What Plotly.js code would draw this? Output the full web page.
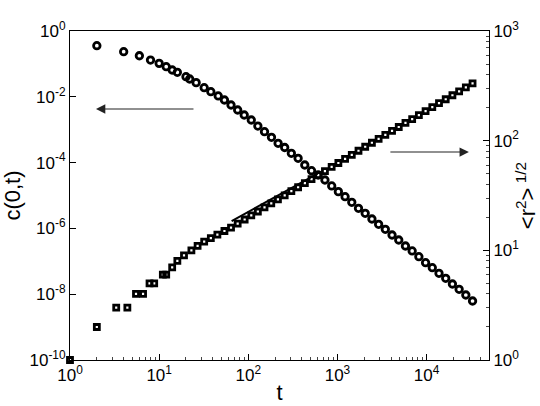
<!DOCTYPE html>
<html>
<head>
<meta charset="utf-8">
<script src="https://cdn.plot.ly/plotly-3.0.1.min.js"></script>
<style>html,body{margin:0;padding:0;background:#fff;}#chart{width:540px;height:406px;}</style>
</head>
<body>
<div id="chart"></div>
<script>
// c(0,t) series (left axis)
const tC = [2, 4, 6, 8, 10, 12, 14, 16, 20, 22, 26, 32, 38, 46, 54, 64, 76, 90, 108, 128,
  152, 182, 216, 256, 304, 362, 430, 512, 608, 724, 862, 1024, 1218, 1448, 1722, 2048,
  2436, 2896, 3444, 4096, 4870, 5792, 6888, 8192, 9742, 11586, 13778, 16384, 19484,
  23170, 27554, 32768];
const cVals = [0.357, 0.235, 0.177, 0.131, 0.104, 0.0822, 0.0653, 0.0556, 0.0408, 0.0348,
  0.0269, 0.0189, 0.0143, 0.0106, 0.0080, 0.00564, 0.00397, 0.00280, 0.00197, 0.00129,
  8.69e-4, 5.87e-4, 3.86e-4, 2.88e-4, 1.92e-4, 1.35e-4, 8.45e-5, 5.68e-5, 4.20e-5, 2.96e-5,
  1.95e-5, 1.31e-5, 9.2e-6, 6.21e-6, 4.08e-6, 2.88e-6, 1.93e-6, 1.33e-6, 9.4e-7, 6.3e-7,
  4.44e-7, 2.92e-7, 2.06e-7, 1.38e-7, 9.06e-8, 6.38e-8, 4.32e-8, 3.04e-8, 2.04e-8,
  1.41e-8, 9.46e-9, 6.21e-9];

// <r^2>^(1/2) series (right axis)
const tR = [1, 2, 3.3, 4.4, 5.5, 6.6, 7.8, 8.8, 11, 12, 14, 16, 19, 23, 27, 32, 38, 45, 54, 64, 76, 91,
  108, 128, 152, 181, 215, 256, 304, 362, 431, 512, 609, 724, 861, 1024, 1218, 1448, 1722,
  2048, 2435, 2896, 3444, 4096, 4871, 5793, 6889, 8192, 9742, 11585, 13777, 16384, 19484,
  23170, 27554, 32768];
const rVals = [1, 2, 3, 3, 4, 4, 5, 5, 6, 6, 7, 8, 9, 10, 11, 12, 12.9, 13.9, 15.0, 16.1,
  17.5, 19.1, 20.8, 22.6, 24.6, 26.8, 29.2, 31.7, 34.6, 37.6, 41.0, 44.6, 48.6, 52.8, 57.6,
  62.6, 68.2, 74.2, 80.9, 88.0, 95.7, 103.9, 113.0, 122.6, 133.3, 145.0, 157.3, 171.1,
  185.7, 202.0, 219.7, 238.5, 259.4, 281.5, 306.1, 333.0];

// reference power-law line
const fitT = [65, 600];
const fitR = [18.5, 50];

// tick labels
const xTickVals = [1, 10, 100, 1000, 10000];
const xTickText = ['10<sup>0</sup>', '10<sup>1</sup>', '10<sup>2</sup>', '10<sup>3</sup>', '10<sup>4</sup>'];
const yTickVals = [1e-10, 1e-8, 1e-6, 1e-4, 1e-2, 1];
const yTickText = ['10<sup>-10</sup>', '10<sup>-8</sup>', '10<sup>-6</sup>', '10<sup>-4</sup>', '10<sup>-2</sup>', '10<sup>0</sup>'];
const y2TickVals = [1, 10, 100, 1000];
const y2TickText = ['10<sup>0</sup>', '10<sup>1</sup>', '10<sup>2</sup>', '10<sup>3</sup>'];

function minorLog(d0, d1) {
  const out = [];
  for (let d = d0; d < d1; d++) for (let m = 2; m <= 9; m++) out.push(m * Math.pow(10, d));
  return out;
}

const FONT = '"Liberation Sans", Arial, Helvetica, sans-serif';

const traces = [
  {x: fitT, y: fitR, yaxis: 'y2', mode: 'lines', line: {color: '#000', width: 2}, hoverinfo: 'skip'},
  {x: tR, y: rVals, yaxis: 'y2', mode: 'markers', cliponaxis: false,
   marker: {symbol: 'square-open', size: 5, color: '#000', line: {color: '#000', width: 2.8}}},
  {x: tC, y: cVals, mode: 'markers', cliponaxis: false,
   marker: {symbol: 'circle-open', size: 6.5, color: '#000', line: {color: '#000', width: 2.8}}}
];

const layout = {
  width: 540, height: 406,
  margin: {l: 70, r: 51, t: 31, b: 46},
  paper_bgcolor: '#fff', plot_bgcolor: '#fff',
  showlegend: false,
  font: {family: FONT, color: '#000', size: 17},
  xaxis: {
    type: 'log', range: [0, 4.7],
    tickmode: 'array', tickvals: xTickVals, ticktext: xTickText,
    ticks: 'inside', ticklen: 6, tickcolor: '#000',
    minor: {tickmode: 'array', tickvals: minorLog(0, 5), ticks: 'inside', ticklen: 3, tickcolor: '#444', showgrid: false},
    showline: true, linecolor: '#000', linewidth: 1, mirror: true,
    showgrid: false, zeroline: false,
    tickfont: {size: 17},
    title: {text: 't', font: {size: 22}, standoff: 0}
  },
  yaxis: {
    type: 'log', range: [-10, 0],
    tickmode: 'array', tickvals: yTickVals, ticktext: yTickText,
    ticks: 'inside', ticklen: 6, tickcolor: '#000',
    showline: true, linecolor: '#000', linewidth: 1,
    showgrid: false, zeroline: false,
    tickfont: {size: 17},
    title: {text: 'c(0,t)', font: {size: 22}, standoff: 2}
  },
  yaxis2: {
    type: 'log', range: [0, 3], overlaying: 'y', side: 'right',
    tickmode: 'array', tickvals: y2TickVals, ticktext: y2TickText,
    ticks: 'inside', ticklen: 6, tickcolor: '#000',
    minor: {tickmode: 'array', tickvals: minorLog(0, 3), ticks: 'inside', ticklen: 3, tickcolor: '#444', showgrid: false},
    showline: true, linecolor: '#000', linewidth: 1,
    showgrid: false, zeroline: false,
    tickfont: {size: 17},
    title: {text: '&lt;r<sup>2</sup>&gt;<sup> 1/2</sup>', font: {size: 22}, standoff: 2}
  },
  annotations: [
    {xref: 'paper', yref: 'paper', x: 0.062, y: 0.763, ax: 99, ay: 0, text: '',
     showarrow: true, arrowhead: 2, arrowsize: 1.7, arrowwidth: 1.1, arrowcolor: '#222', standoff: 0},
    {xref: 'paper', yref: 'paper', x: 0.952, y: 0.632, ax: -80, ay: 0, text: '',
     showarrow: true, arrowhead: 2, arrowsize: 1.7, arrowwidth: 1.1, arrowcolor: '#222', standoff: 0}
  ]
};

Plotly.newPlot('chart', traces, layout, {displayModeBar: false, staticPlot: true});
</script>
</body>
</html>
